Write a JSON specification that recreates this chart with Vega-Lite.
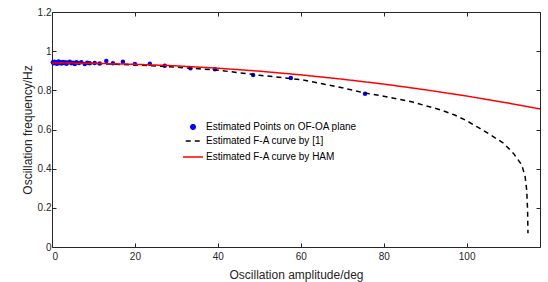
{
  "$schema": "https://vega.github.io/schema/vega-lite/v6.json",
  "width": 488,
  "height": 235,
  "autosize": {"type": "none"},
  "padding": {"left": 52, "top": 12, "right": 8, "bottom": 35},
  "background": "white",
  "config": {
    "view": {"stroke": null},
    "font": "Liberation Sans",
    "axis": {
      "grid": false,
      "domainColor": "#262626",
      "domainWidth": 1,
      "tickColor": "#262626",
      "tickSize": -4,
      "labelColor": "#262626",
      "labelFont": "Liberation Sans",
      "labelFontSize": 10,
      "titleColor": "#262626",
      "titleFont": "Liberation Sans",
      "titleFontSize": 12,
      "titleFontWeight": "normal"
    },
    "legend": {
      "labelFont": "Liberation Sans",
      "labelFontSize": 10,
      "labelColor": "#000000"
    }
  },
  "data": {
    "values": [
      {"series": "Estimated Points on OF-OA plane", "x": 0.2, "y": 0.943},
      {"series": "Estimated Points on OF-OA plane", "x": 0.4, "y": 0.938},
      {"series": "Estimated Points on OF-OA plane", "x": 0.6, "y": 0.946},
      {"series": "Estimated Points on OF-OA plane", "x": 0.8, "y": 0.94},
      {"series": "Estimated Points on OF-OA plane", "x": 1.0, "y": 0.944},
      {"series": "Estimated Points on OF-OA plane", "x": 1.2, "y": 0.936},
      {"series": "Estimated Points on OF-OA plane", "x": 1.4, "y": 0.942},
      {"series": "Estimated Points on OF-OA plane", "x": 1.6, "y": 0.947},
      {"series": "Estimated Points on OF-OA plane", "x": 1.8, "y": 0.939},
      {"series": "Estimated Points on OF-OA plane", "x": 2.0, "y": 0.944},
      {"series": "Estimated Points on OF-OA plane", "x": 2.3, "y": 0.937},
      {"series": "Estimated Points on OF-OA plane", "x": 2.6, "y": 0.945},
      {"series": "Estimated Points on OF-OA plane", "x": 2.9, "y": 0.94},
      {"series": "Estimated Points on OF-OA plane", "x": 3.2, "y": 0.943},
      {"series": "Estimated Points on OF-OA plane", "x": 3.5, "y": 0.936},
      {"series": "Estimated Points on OF-OA plane", "x": 3.9, "y": 0.942},
      {"series": "Estimated Points on OF-OA plane", "x": 4.3, "y": 0.946},
      {"series": "Estimated Points on OF-OA plane", "x": 4.7, "y": 0.938},
      {"series": "Estimated Points on OF-OA plane", "x": 5.1, "y": 0.941},
      {"series": "Estimated Points on OF-OA plane", "x": 5.5, "y": 0.935},
      {"series": "Estimated Points on OF-OA plane", "x": 5.9, "y": 0.943},
      {"series": "Estimated Points on OF-OA plane", "x": 6.5, "y": 0.939},
      {"series": "Estimated Points on OF-OA plane", "x": 7.1, "y": 0.944},
      {"series": "Estimated Points on OF-OA plane", "x": 7.9, "y": 0.935},
      {"series": "Estimated Points on OF-OA plane", "x": 8.5, "y": 0.941},
      {"series": "Estimated Points on OF-OA plane", "x": 9.1, "y": 0.938},
      {"series": "Estimated Points on OF-OA plane", "x": 10.3, "y": 0.94},
      {"series": "Estimated Points on OF-OA plane", "x": 11.5, "y": 0.937},
      {"series": "Estimated Points on OF-OA plane", "x": 13.1, "y": 0.95},
      {"series": "Estimated Points on OF-OA plane", "x": 14.7, "y": 0.938},
      {"series": "Estimated Points on OF-OA plane", "x": 17.1, "y": 0.946},
      {"series": "Estimated Points on OF-OA plane", "x": 20.0, "y": 0.935},
      {"series": "Estimated Points on OF-OA plane", "x": 23.6, "y": 0.936},
      {"series": "Estimated Points on OF-OA plane", "x": 27.2, "y": 0.926},
      {"series": "Estimated Points on OF-OA plane", "x": 33.4, "y": 0.913},
      {"series": "Estimated Points on OF-OA plane", "x": 39.3, "y": 0.908},
      {"series": "Estimated Points on OF-OA plane", "x": 48.5, "y": 0.878},
      {"series": "Estimated Points on OF-OA plane", "x": 57.6, "y": 0.863},
      {"series": "Estimated Points on OF-OA plane", "x": 75.5, "y": 0.783},
      {"series": "Estimated F-A curve by [1]", "x": 0, "y": 0.94},
      {"series": "Estimated F-A curve by [1]", "x": 10, "y": 0.937},
      {"series": "Estimated F-A curve by [1]", "x": 20, "y": 0.93},
      {"series": "Estimated F-A curve by [1]", "x": 30, "y": 0.918},
      {"series": "Estimated F-A curve by [1]", "x": 40, "y": 0.903},
      {"series": "Estimated F-A curve by [1]", "x": 50, "y": 0.877},
      {"series": "Estimated F-A curve by [1]", "x": 60, "y": 0.855},
      {"series": "Estimated F-A curve by [1]", "x": 70, "y": 0.813},
      {"series": "Estimated F-A curve by [1]", "x": 75.5, "y": 0.786},
      {"series": "Estimated F-A curve by [1]", "x": 80, "y": 0.77},
      {"series": "Estimated F-A curve by [1]", "x": 87, "y": 0.74},
      {"series": "Estimated F-A curve by [1]", "x": 93.6, "y": 0.701},
      {"series": "Estimated F-A curve by [1]", "x": 97, "y": 0.675},
      {"series": "Estimated F-A curve by [1]", "x": 100, "y": 0.645},
      {"series": "Estimated F-A curve by [1]", "x": 103, "y": 0.608},
      {"series": "Estimated F-A curve by [1]", "x": 105.6, "y": 0.575},
      {"series": "Estimated F-A curve by [1]", "x": 108.9, "y": 0.53},
      {"series": "Estimated F-A curve by [1]", "x": 111.3, "y": 0.478},
      {"series": "Estimated F-A curve by [1]", "x": 113.3, "y": 0.419},
      {"series": "Estimated F-A curve by [1]", "x": 114.1, "y": 0.36},
      {"series": "Estimated F-A curve by [1]", "x": 114.5, "y": 0.29},
      {"series": "Estimated F-A curve by [1]", "x": 114.7, "y": 0.19},
      {"series": "Estimated F-A curve by [1]", "x": 114.8, "y": 0.07},
      {"series": "Estimated F-A curve by HAM", "x": 0, "y": 0.94},
      {"series": "Estimated F-A curve by HAM", "x": 10, "y": 0.938},
      {"series": "Estimated F-A curve by HAM", "x": 20, "y": 0.933},
      {"series": "Estimated F-A curve by HAM", "x": 30, "y": 0.925},
      {"series": "Estimated F-A curve by HAM", "x": 40, "y": 0.913},
      {"series": "Estimated F-A curve by HAM", "x": 50, "y": 0.898},
      {"series": "Estimated F-A curve by HAM", "x": 60, "y": 0.879},
      {"series": "Estimated F-A curve by HAM", "x": 70, "y": 0.857},
      {"series": "Estimated F-A curve by HAM", "x": 80, "y": 0.832},
      {"series": "Estimated F-A curve by HAM", "x": 90, "y": 0.803},
      {"series": "Estimated F-A curve by HAM", "x": 100, "y": 0.771},
      {"series": "Estimated F-A curve by HAM", "x": 110, "y": 0.735},
      {"series": "Estimated F-A curve by HAM", "x": 117.7, "y": 0.705}
    ]
  },
  "layer": [
    {
      "transform": [{"filter": "datum.series == 'Estimated Points on OF-OA plane'"}],
      "mark": {"type": "point", "filled": true, "opacity": 1},
      "encoding": {
        "x": {
          "field": "x", "type": "quantitative",
          "scale": {"domain": [0, 117.7], "nice": false, "zero": false},
          "axis": {"title": "Oscillation amplitude/deg", "values": [0, 20, 40, 60, 80, 100], "labelPadding": 8, "titlePadding": 8}
        },
        "y": {
          "field": "y", "type": "quantitative",
          "scale": {"domain": [0, 1.2], "nice": false, "zero": false},
          "axis": {"title": "Oscillation frequency/Hz", "values": [0, 0.2, 0.4, 0.6, 0.8, 1, 1.2], "format": "~g", "labelPadding": 5, "titlePadding": 3}
        },
        "color": {
          "field": "series", "type": "nominal",
          "scale": {
            "domain": ["Estimated Points on OF-OA plane", "Estimated F-A curve by [1]", "Estimated F-A curve by HAM"],
            "range": ["#0000ff", "#000000", "#ff0000"]
          },
          "legend": {
            "title": null,
            "orient": "none",
            "legendX": 130,
            "legendY": 110,
            "padding": 0,
            "rowPadding": -6,
            "labelOffset": 2,
            "symbolStrokeWidth": 1.5,
            "encode": {"symbols": {"update": {"stroke": {"scale": "color", "field": "value"}}}}
          }
        },
        "shape": {
          "field": "series", "type": "nominal",
          "scale": {
            "domain": ["Estimated Points on OF-OA plane", "Estimated F-A curve by [1]", "Estimated F-A curve by HAM"],
            "range": ["circle", "stroke", "stroke"]
          },
          "legend": {"title": null}
        },
        "size": {
          "field": "series", "type": "nominal",
          "scale": {
            "domain": ["Estimated Points on OF-OA plane", "Estimated F-A curve by [1]", "Estimated F-A curve by HAM"],
            "range": [20, 400, 400]
          },
          "legend": {"title": null}
        }
      }
    },
    {
      "transform": [{"filter": "datum.series != 'Estimated Points on OF-OA plane'"}],
      "mark": {"type": "line", "strokeWidth": 1.5},
      "encoding": {
        "x": {
          "field": "x", "type": "quantitative",
          "axis": {"orient": "top", "title": null, "labels": false, "values": [0, 20, 40, 60, 80, 100]}
        },
        "y": {
          "field": "y", "type": "quantitative",
          "axis": {"orient": "right", "title": null, "labels": false, "values": [0, 0.2, 0.4, 0.6, 0.8, 1, 1.2]}
        },
        "color": {"field": "series", "type": "nominal", "legend": {"title": null}},
        "strokeDash": {
          "field": "series", "type": "nominal",
          "scale": {
            "domain": ["Estimated Points on OF-OA plane", "Estimated F-A curve by [1]", "Estimated F-A curve by HAM"],
            "range": [[1, 0], [5, 4], [1, 0]]
          },
          "legend": {"title": null}
        }
      }
    }
  ],
  "resolve": {"axis": {"x": "independent", "y": "independent"}}
}
